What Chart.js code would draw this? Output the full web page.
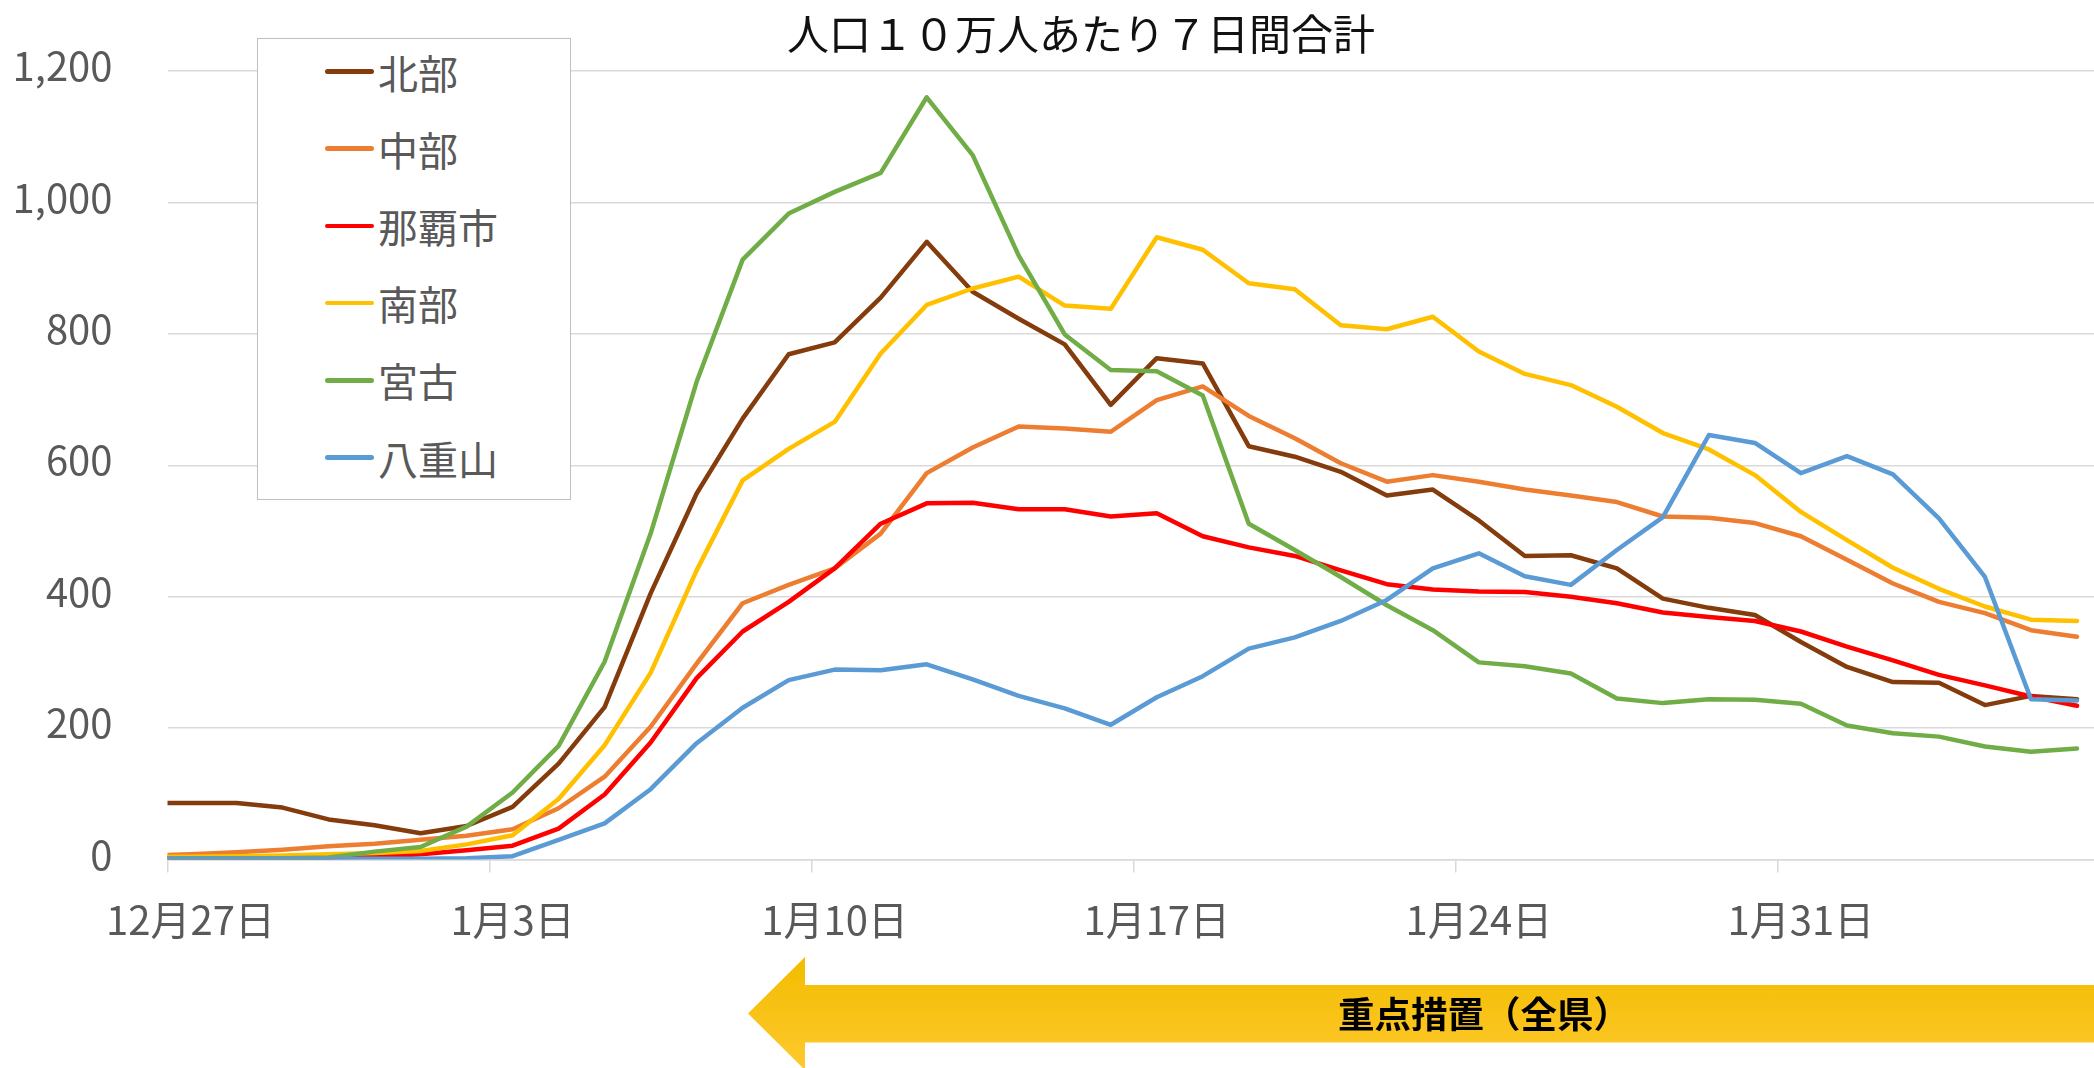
<!DOCTYPE html>
<html lang="ja">
<head>
<meta charset="utf-8">
<title>人口１０万人あたり７日間合計</title>
<script src="https://cdn.jsdelivr.net/npm/chart.js@4.4.1/dist/chart.umd.min.js"></script>
<style>
  html, body { margin: 0; padding: 0; background: #fff; overflow: hidden; }
  body { width: 2094px; height: 1068px; position: relative; font-family: "Noto Sans CJK JP", "Noto Sans", sans-serif; }
  #wrap { position: absolute; left: 0; top: 0; width: 2100px; height: 1068px; }
  #titulo { position: absolute; left: 787px; top: 6px; font-size: 42px; line-height: 52px; color: #111; white-space: nowrap; }
  #leyenda { position: absolute; left: 257px; top: 38px; width: 312px; height: 460px; border: 1.5px solid #BFBFBF; background: #fff; }
  .item { position: absolute; left: 67px; height: 50px; display: flex; align-items: center; font-size: 40px; color: #595959; white-space: nowrap; }
  .item i { display: block; width: 49px; height: 4.5px; border-radius: 3px; margin-right: 4px; }
  #flecha { position: absolute; left: 748px; top: 957px; width: 1346px; height: 113px;
            background: linear-gradient(#F2BC00, #FFC92E);
            clip-path: polygon(0 56.5px, 57px 0, 57px 28px, 100% 28px, 100% 85.5px, 57px 85.5px, 57px 113px); }
  #flechaTxt { position: absolute; left: 1234px; top: 985px; width: 500px; text-align: center; font-size: 36.5px; line-height: 56px; font-weight: bold; color: #000; white-space: nowrap; }
</style>
</head>
<body>
<div id="wrap"><canvas id="grafica" width="2100" height="1068"></canvas></div>
<div id="titulo">人口１０万人あたり７日間合計</div>
<div id="leyenda"></div>
<div id="flecha"></div>
<div id="flechaTxt">重点措置（全県）</div>

<script>
// fechas: el primer dia (12/26) queda fuera del eje, solo se ve el tramo recortado
const FECHAS = [
  '12月26日', '12月27日', '12月28日', '12月29日', '12月30日', '12月31日',
  '1月1日', '1月2日', '1月3日', '1月4日', '1月5日', '1月6日', '1月7日', '1月8日', '1月9日',
  '1月10日', '1月11日', '1月12日', '1月13日', '1月14日', '1月15日', '1月16日',
  '1月17日', '1月18日', '1月19日', '1月20日', '1月21日', '1月22日', '1月23日',
  '1月24日', '1月25日', '1月26日', '1月27日', '1月28日', '1月29日', '1月30日',
  '1月31日', '2月1日', '2月2日', '2月3日', '2月4日', '2月5日', '2月6日'
];

const NOMBRES = ['北部', '中部', '那覇市', '南部', '宮古', '八重山'];
const COLORES = ['#843C0C', '#ED7D31', '#FF0000', '#FFC000', '#70AD47', '#5B9BD5'];

const HOKUBU = [86, 86, 86, 79, 61, 52, 40, 51, 80, 146, 232, 405, 557, 671, 769, 787, 855, 940, 864, 823, 784, 692,
  763, 755, 629, 613, 590, 554, 563, 516, 462, 463, 443, 397, 383, 372, 331, 293, 270, 269, 235, 249, 244];
const CHUBU = [6, 8, 11, 15, 20, 24, 30, 36, 46, 78, 126, 202, 298, 390, 418, 443, 496, 588, 627, 659, 656, 651,
  699, 720, 675, 641, 603, 575, 585, 575, 563, 554, 544, 522, 520, 512, 492, 456, 420, 392, 375, 349, 339];
const NAHA = [2, 2, 2, 2, 3, 4, 8, 14, 21, 47, 99, 178, 276, 347, 392, 443, 511, 542, 543, 533, 533, 522,
  527, 492, 475, 462, 440, 419, 411, 408, 407, 400, 390, 376, 369, 363, 347, 324, 303, 281, 265, 248, 234];
const NANBU = [4, 4, 5, 6, 8, 10, 13, 23, 37, 92, 174, 284, 440, 577, 625, 666, 770, 844, 869, 887, 843, 838,
  947, 928, 877, 868, 813, 807, 826, 773, 739, 722, 689, 649, 624, 585, 529, 486, 444, 412, 385, 365, 363];
const MIYAKO = [2, 2, 2, 2, 3, 12, 19, 50, 102, 173, 301, 496, 727, 913, 983, 1016, 1045, 1160, 1072, 919, 799, 745,
  743, 706, 511, 471, 430, 387, 349, 300, 294, 283, 245, 238, 244, 243, 237, 204, 192, 187, 172, 164, 169];
const YAEYAMA = [1, 1, 1, 1, 1, 1, 1, 2, 5, 30, 55, 107, 177, 231, 273, 289, 288, 297, 274, 249, 230, 205,
  247, 279, 321, 338, 363, 395, 443, 466, 431, 418, 471, 521, 646, 634, 588, 614, 586, 519, 430, 244, 242];

const SERIES = [HOKUBU, CHUBU, NAHA, NANBU, MIYAKO, YAEYAMA];

const Y_MAX = 1200;
const Y_PASO = 200;

const fuente = '"Noto Sans CJK JP", "Noto Sans", sans-serif';
Chart.defaults.font.family = fuente;

// datasets, el ultimo (八重山) se dibuja encima
const datasets = SERIES.map((datos, i) => ({
  label: NOMBRES[i],
  data: datos,
  borderColor: COLORES[i],
  backgroundColor: COLORES[i],
  borderWidth: 4.5,
  pointRadius: 0,
  tension: 0,
  fill: false,
  borderJoinStyle: 'round',
  borderCapStyle: 'round',
  order: SERIES.length - 1 - i
}));

new Chart(document.getElementById('grafica'), {
  type: 'line',
  data: { labels: FECHAS, datasets },
  options: {
    responsive: false,
    animation: false,
    devicePixelRatio: 1,
    locale: 'en-US',
    layout: { padding: { top: 71, right: 0, bottom: 0, left: 0 } },
    plugins: { legend: { display: false }, title: { display: false }, tooltip: { enabled: false } },
    scales: {
      x: {
        type: 'category',
        min: '12月27日',
        offset: true,
        grid: {
          offset: true,
          drawOnChartArea: false,
          drawTicks: true,
          tickLength: 13,
          lineWidth: 1.5,
          color: (c) => (c.index % 7 === 0 ? '#D9D9D9' : 'rgba(0,0,0,0)')
        },
        border: { display: true, color: '#D9D9D9', width: 1.5 },
        ticks: {
          autoSkip: false,
          maxRotation: 0,
          padding: 23,
          color: '#595959',
          font: { size: 40 },
          callback: function (v, i) { return i % 7 === 0 ? this.getLabelForValue(v) : ''; }
        },
        afterFit: (s) => { s.height = 208.5; s.paddingLeft = 0; s.paddingRight = 0; }
      },
      y: {
        min: 0,
        max: Y_MAX,
        grid: { color: '#D9D9D9', lineWidth: 1.5, drawTicks: false },
        border: { display: false },
        ticks: { stepSize: Y_PASO, padding: 55, labelOffset: -5, color: '#595959', font: { size: 40 } },
        // el padding de las etiquetas no debe empujar el area del grafico
        afterFit: (s) => { s.width = 167.5; s.paddingTop = 0; s.paddingBottom = 0; }
      }
    }
  }
});

// leyenda en html, sale de los mismos nombres y colores
const leyenda = document.getElementById('leyenda');
NOMBRES.forEach((n, i) => {
  const d = leyenda.appendChild(document.createElement('div'));
  d.className = 'item';
  d.style.top = (32.5 + i * 77.2 - 25) + 'px';
  d.innerHTML = `<i style="background:${COLORES[i]}"></i><span>${n}</span>`;
});
</script>
</body>
</html>
